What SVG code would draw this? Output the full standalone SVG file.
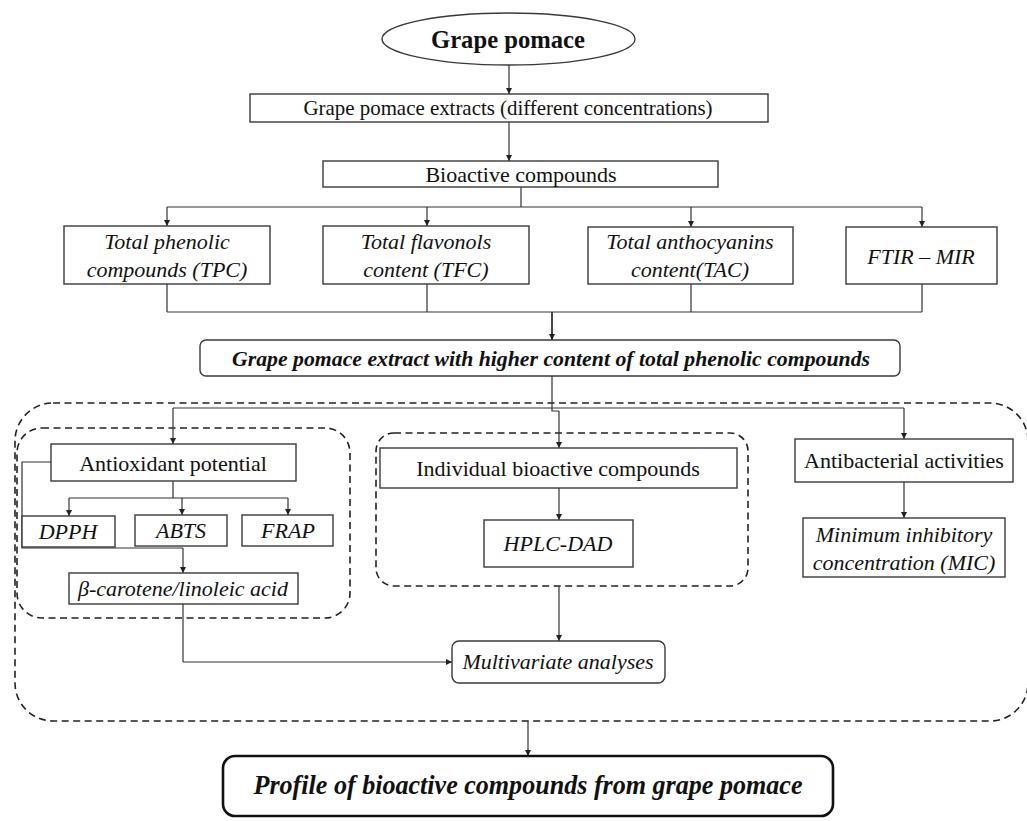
<svg xmlns="http://www.w3.org/2000/svg" width="1027" height="821" viewBox="0 0 1027 821">
<defs>
<marker id="ah" viewBox="0 0 10 10" refX="10" refY="5" markerWidth="6" markerHeight="6" markerUnits="userSpaceOnUse" orient="auto">
<path d="M0,0 L10,5 L0,10 z" fill="#222"/>
</marker>
<style>
.box{fill:#fff;stroke:#3a3a3a;stroke-width:1.4}
.dash{fill:none;stroke:#222;stroke-width:1.6;stroke-dasharray:7 4.5}
.ln{fill:none;stroke:#333;stroke-width:1.2}
.arr{fill:none;stroke:#333;stroke-width:1.2;marker-end:url(#ah)}
.t{font-family:"Liberation Serif","Times New Roman",serif;font-size:22px;fill:#111;text-anchor:middle}
.i{font-style:italic}
.b{font-weight:bold}
</style>
</defs>
<rect width="1027" height="821" fill="#fff"/>

<g id="containers">
<rect class="dash" x="15" y="403" width="1013" height="318" rx="38"/>
<rect class="dash" x="17" y="428" width="333" height="190" rx="25"/>
<rect class="dash" x="376" y="433" width="372" height="153" rx="18"/>
</g>

<g id="connectors">
<path class="arr" d="M509,65 V94"/>
<path class="arr" d="M509,122 V161"/>
<path class="ln" d="M521,187 V207 M167,207 H922"/>
<path class="arr" d="M167,207 V226"/>
<path class="arr" d="M427,207 V226"/>
<path class="arr" d="M691,207 V227"/>
<path class="arr" d="M922,207 V227"/>
<path class="ln" d="M167,284 V312 M427,284 V312 M691,284 V312 M922,284 V312 M167,312 H922"/>
<path class="arr" d="M552,312 V340" style="stroke-width:1.8"/>
<path class="ln" d="M552,376 V411 H559 M173,408 H904"/>
<path class="arr" d="M559,411 V448"/>
<path class="arr" d="M173,408 V444"/>
<path class="arr" d="M904,408 V439"/>
<path class="ln" d="M173,481 V498 M69,498 H288"/>
<path class="arr" d="M69,498 V516"/>
<path class="arr" d="M182,498 V515"/>
<path class="arr" d="M288,498 V515"/>
<path class="ln" d="M51,462 H22 V548 H183"/>
<path class="arr" d="M183,548 V573"/>
<path class="arr" d="M559,488 V520"/>
<path class="arr" d="M904,482 V518"/>
<path class="ln" d="M183,604 V662"/>
<path class="arr" d="M183,662 H452"/>
<path class="arr" d="M559,586 V641"/>
<path class="arr" d="M528,721 V756"/>
</g>

<g id="n-grape-pomace">
<ellipse cx="508.5" cy="39" rx="126.5" ry="26" fill="#fff" stroke="#3a3a3a" stroke-width="1.4"/>
<text class="t b" x="508" y="48" style="font-size:25px" textLength="154" lengthAdjust="spacingAndGlyphs">Grape pomace</text>
</g>

<g id="n-extracts">
<rect class="box" x="250" y="94" width="518" height="28"/>
<text class="t" x="508" y="115" textLength="409" lengthAdjust="spacingAndGlyphs">Grape pomace extracts (different concentrations)</text>
</g>

<g id="n-bioactive">
<rect class="box" x="323" y="161" width="395" height="26"/>
<text class="t" x="521" y="182">Bioactive compounds</text>
</g>

<g id="n-tpc">
<rect class="box" x="64" y="226" width="206" height="58"/>
<text class="t i" x="167" y="249">Total phenolic</text>
<text class="t i" x="167" y="277">compounds (TPC)</text>
</g>

<g id="n-tfc">
<rect class="box" x="323" y="226" width="206" height="58"/>
<text class="t i" x="426" y="249">Total flavonols</text>
<text class="t i" x="426" y="277">content (TFC)</text>
</g>

<g id="n-tac">
<rect class="box" x="588" y="227" width="205" height="57"/>
<text class="t i" x="690" y="249">Total anthocyanins</text>
<text class="t i" x="690" y="277">content(TAC)</text>
</g>

<g id="n-ftir">
<rect class="box" x="846" y="227" width="151" height="57"/>
<text class="t i" x="921" y="264">FTIR – MIR</text>
</g>

<g id="n-higher">
<rect class="box" x="200" y="340" width="700" height="36" rx="6"/>
<text class="t i b" x="551" y="366" textLength="638" lengthAdjust="spacingAndGlyphs">Grape pomace extract with higher content of total phenolic compounds</text>
</g>

<g id="n-antioxidant">
<rect class="box" x="51" y="444" width="245" height="37"/>
<text class="t" x="173" y="471">Antioxidant potential</text>
</g>

<g id="n-dpph">
<rect class="box" x="22" y="516" width="93" height="31"/>
<text class="t i" x="68" y="539">DPPH</text>
</g>

<g id="n-abts">
<rect class="box" x="135" y="515" width="92" height="31"/>
<text class="t i" x="181" y="538">ABTS</text>
</g>

<g id="n-frap">
<rect class="box" x="242" y="515" width="91" height="31"/>
<text class="t i" x="288" y="538">FRAP</text>
</g>

<g id="n-carotene">
<rect class="box" x="69" y="573" width="229" height="31"/>
<text class="t i" x="183" y="596">β-carotene/linoleic acid</text>
</g>

<g id="n-individual">
<rect class="box" x="380" y="448" width="357" height="40"/>
<text class="t" x="558" y="476">Individual bioactive compounds</text>
</g>

<g id="n-hplc">
<rect class="box" x="484" y="520" width="149" height="47"/>
<text class="t i" x="558" y="551">HPLC-DAD</text>
</g>

<g id="n-antibacterial">
<rect class="box" x="795" y="439" width="218" height="43"/>
<text class="t" x="904" y="468">Antibacterial activities</text>
</g>

<g id="n-mic">
<rect class="box" x="803" y="518" width="202" height="59"/>
<text class="t i" x="904" y="542">Minimum inhibitory</text>
<text class="t i" x="904" y="570">concentration (MIC)</text>
</g>

<g id="n-multivariate">
<rect class="box" x="452" y="641" width="213" height="42" rx="7"/>
<text class="t i" x="558" y="669">Multivariate analyses</text>
</g>

<g id="n-profile">
<rect x="223" y="756" width="610" height="60" rx="12" fill="#fff" stroke="#111" stroke-width="2.6"/>
<text class="t i b" x="528" y="794" style="font-size:28px" textLength="549" lengthAdjust="spacingAndGlyphs">Profile of bioactive compounds from grape pomace</text>
</g>
</svg>
